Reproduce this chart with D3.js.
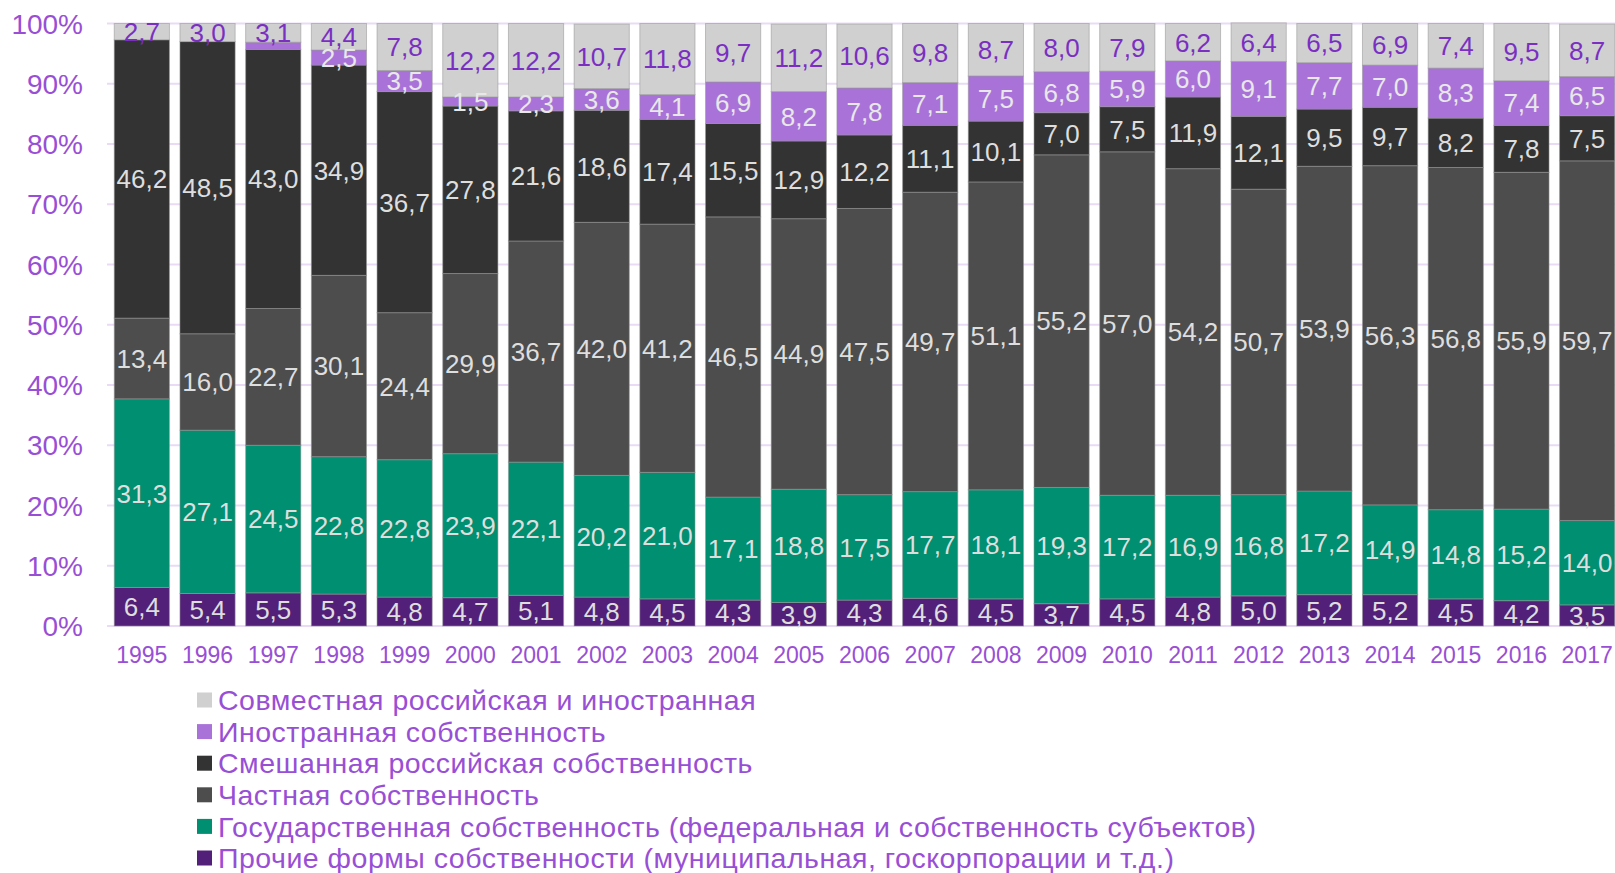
<!DOCTYPE html>
<html>
<head>
<meta charset="utf-8">
<script src="https://cdn.jsdelivr.net/npm/d3@7"></script>
<style>
  body { margin: 0; background: #fff; }
  text { font-family: "Liberation Sans", Arial, sans-serif; }
</style>
</head>
<body>
<div id="chart"></div>
<script>
// ---------- data (percent shares by form of ownership) ----------
var years = ["1995","1996","1997","1998","1999","2000","2001","2002","2003","2004","2005","2006",
             "2007","2008","2009","2010","2011","2012","2013","2014","2015","2016","2017"];

// bottom to top
var other    = [6.4,5.4,5.5,5.3,4.8,4.7,5.1,4.8,4.5,4.3,3.9,4.3,4.6,4.5,3.7,4.5,4.8,5.0,5.2,5.2,4.5,4.2,3.5];
var stateOwn = [31.3,27.1,24.5,22.8,22.8,23.9,22.1,20.2,21.0,17.1,18.8,17.5,17.7,18.1,19.3,17.2,16.9,16.8,17.2,14.9,14.8,15.2,14.0];
var privateOwn = [13.4,16.0,22.7,30.1,24.4,29.9,36.7,42.0,41.2,46.5,44.9,47.5,49.7,51.1,55.2,57.0,54.2,50.7,53.9,56.3,56.8,55.9,59.7];
var mixedRus = [46.2,48.5,43.0,34.9,36.7,27.8,21.6,18.6,17.4,15.5,12.9,12.2,11.1,10.1,7.0,7.5,11.9,12.1,9.5,9.7,8.2,7.8,7.5];
var foreign  = [0,0,1.2,2.5,3.5,1.5,2.3,3.6,4.1,6.9,8.2,7.8,7.1,7.5,6.8,5.9,6.0,9.1,7.7,7.0,8.3,7.4,6.5];
var joint    = [2.7,3.0,3.1,4.4,7.8,12.2,12.2,10.7,11.8,9.7,11.2,10.6,9.8,8.7,8.0,7.9,6.2,6.4,6.5,6.9,7.4,9.5,8.7];

var seriesNames = [
  "Прочие формы собственности (муниципальная, госкорпорации и т.д.)",
  "Государственная собственность (федеральная и собственность субъектов)",
  "Частная собственность",
  "Смешанная российская собственность",
  "Иностранная собственность",
  "Совместная российская и иностранная"
];
var seriesValues = [other, stateOwn, privateOwn, mixedRus, foreign, joint];
var seriesColors = ["#522079", "#008f70", "#4d4d4d", "#333333", "#a872d8", "#d0d0d0"];
var labelColors  = ["#dedede", "#dedede", "#dedede", "#dedede", "#e8e8e8", "#7a2fc2"];

var yTicks = [0,10,20,30,40,50,60,70,80,90,100];

// ---------- setup ----------
var width = 1615, height = 873;
var svg = d3.select("#chart").append("svg")
    .attr("width", width)
    .attr("height", height);

var x = d3.scaleBand().domain(years).range([109, 1620]).paddingInner(0.16).paddingOuter(0.08);
var y = d3.scaleLinear().domain([0, 100]).range([626, 23.5]);

var axisColor = "#984fd6";

// gridlines
svg.append("g").selectAll("line")
  .data(yTicks).enter().append("line")
    .attr("x1", 107).attr("x2", width)
    .attr("y1", d => y(d)).attr("y2", d => y(d))
    .style("stroke", "#e9dbf6")
    .style("stroke-width", 2);

// y labels
svg.append("g").selectAll("text")
  .data(yTicks).enter().append("text")
    .attr("x", 83)
    .attr("y", d => y(d))
    .attr("dy", "0.36em")
    .attr("text-anchor", "end")
    .style("font-size", "28px")
    .style("fill", axisColor)
    .text(d => d + "%");

// x labels
svg.append("g").selectAll("text")
  .data(years).enter().append("text")
    .attr("x", d => x(d) + x.bandwidth() / 2)
    .attr("y", 655)
    .attr("dy", "0.36em")
    .attr("text-anchor", "middle")
    .style("font-size", "23px")
    .style("fill", axisColor)
    .text(d => d);

// stacked bars
var table = years.map(function(yr, i) {
  var row = {year: yr};
  seriesValues.forEach(function(s, k) { row["s" + k] = s[i]; });
  return row;
});
var keys = seriesValues.map((s, k) => "s" + k);
var stacked = d3.stack().keys(keys)(table);

var layers = svg.append("g").selectAll("g.layer")
  .data(stacked).enter().append("g")
    .attr("class", "layer")
    .style("fill", (d, k) => seriesColors[k]);

layers.selectAll("rect")
  .data(d => d).enter().append("rect")
    .attr("x", d => x(d.data.year))
    .attr("width", x.bandwidth())
    .attr("y", d => y(d[1]))
    .attr("height", d => y(d[0]) - y(d[1]))
    .style("stroke", "rgba(150,150,150,0.55)")
    .style("stroke-width", 1);

// value labels, centered in each segment
stacked.forEach(function(layer, k) {
  svg.append("g").selectAll("text")
    .data(layer.filter(d => (d[1] - d[0]) >= 1.5)).enter().append("text")
      .attr("x", d => x(d.data.year) + x.bandwidth() / 2)
      .attr("y", d => y((d[0] + d[1]) / 2))
      .attr("dy", "0.36em")
      .attr("text-anchor", "middle")
      .style("font-size", "26px")
      .style("fill", labelColors[k])
      .text(d => d3.format(".1f")(d[1] - d[0]).replace(".", ","));
});

// legend (top entry is the top segment)
var legend = svg.append("g").selectAll("g")
  .data(seriesNames.map((n, k) => k).reverse()).enter().append("g")
    .attr("transform", (k, i) => "translate(197," + (700 + i * 31.6) + ")");

legend.append("rect")
    .attr("x", 0).attr("y", -7.5)
    .attr("width", 15).attr("height", 15)
    .style("fill", k => seriesColors[k]);

legend.append("text")
    .attr("x", 21)
    .attr("dy", "0.36em")
    .style("font-size", "28.5px")
    .style("letter-spacing", "0.5px")
    .style("fill", axisColor)
    .text(k => seriesNames[k]);
</script>
</body>
</html>
